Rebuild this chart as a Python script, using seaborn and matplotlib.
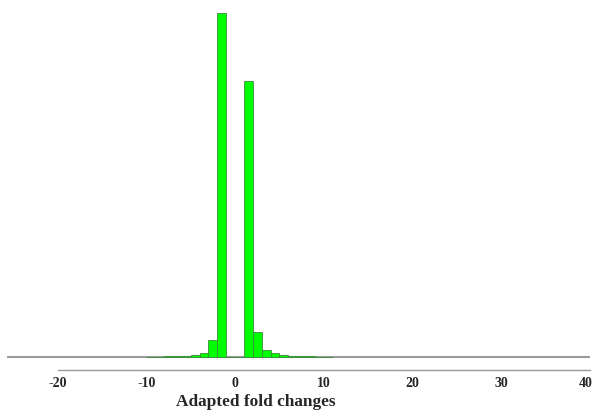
import numpy as np
import pandas as pd
import matplotlib
matplotlib.use('Agg')
import matplotlib.pyplot as plt
import matplotlib.transforms as mtransforms
import seaborn as sns

# histogram of adapted fold changes (bin width 1), counts
bin_left = [-10, -9, -8, -7, -6, -5, -4, -3, -2, 1, 2, 3, 4, 5, 6, 7, 8, 9, 10]
counts = [2, 2, 3, 4, 7, 17, 34, 167, 3440, 2760, 244, 67, 34, 15, 8, 5, 3, 2, 1]
x_ticks = [-20, -10, 0, 10, 20, 30, 40]

df = pd.DataFrame({'fold': np.array(bin_left) + 0.5, 'n': counts})

sns.set_style('white')
plt.rcParams['font.family'] = ['Liberation Serif', 'DejaVu Serif']

fig = plt.figure(figsize=(5.94, 4.11), dpi=100)
ax = fig.add_axes([7 / 594, 41 / 411, 583 / 594, (370 - 12.7) / 411])

sns.histplot(data=df, x='fold', weights='n', binwidth=1, binrange=(-10, 11),
             color='#00ff00', edgecolor='#3a8a3a', linewidth=0.6, alpha=1,
             ax=ax)

# baseline under the bars
ax.axhline(0, color='#9a9a9a', linewidth=1.5, zorder=0)
ax.set_xlim(-25.7, 40)
ax.set_ylim(-133, max(counts))

for s in ['left', 'right', 'top']:
    ax.spines[s].set_visible(False)
ax.spines['bottom'].set_bounds(-20, 40)
ax.spines['bottom'].set_color('#9a9a9a')
ax.spines['bottom'].set_linewidth(1.0)
ax.set_yticks([])
ax.set_ylabel('')
ax.set_xticks(x_ticks)
ax.set_xticklabels([str(t) for t in x_ticks], fontsize=10, fontweight='bold')
ax.tick_params(axis='x', direction='inout', length=4, width=0.8, color='#9a9a9a', pad=3)
ax.set_xlabel('')

# keep the last label inside the figure
last = ax.get_xticklabels()[-1]
last.set_transform(last.get_transform() + mtransforms.ScaledTranslation(-4 / 100, 0, fig.dpi_scale_trans))

fig.text(256 / 594, 1 - 402 / 411, 'Adapted fold changes', ha='center', va='center',
         fontsize=12.4, fontweight='bold')

fig.savefig('out.png', dpi=100)
